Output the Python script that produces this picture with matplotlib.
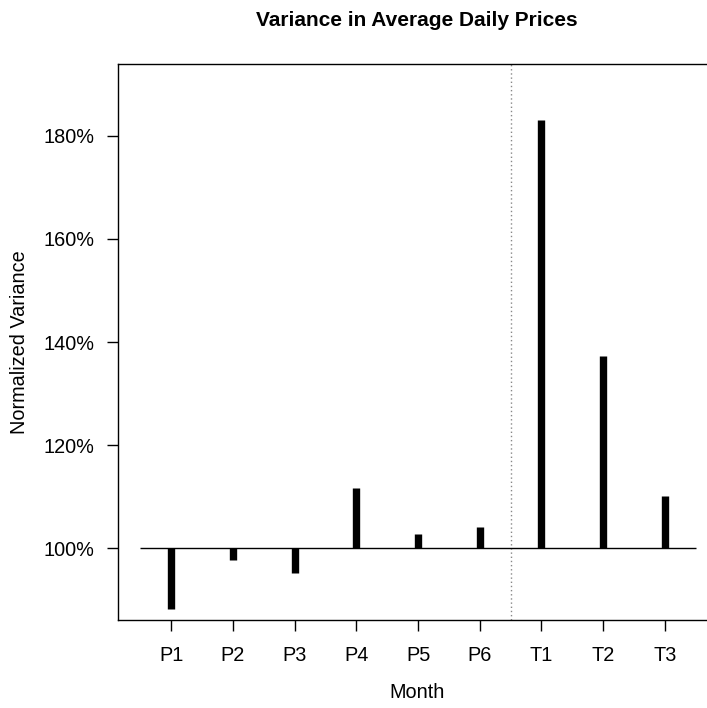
import matplotlib.pyplot as plt
import numpy as np

## data
months = ["P1", "P2", "P3", "P4", "P5", "P6", "T1", "T2", "T3"]
variance = [88.2, 97.7, 95.3, 111.7, 102.8, 104.2, 183.0, 137.2, 110.1]
yticks = [100, 120, 140, 160, 180]

plt.rcParams['font.family'] = ['Liberation Sans', 'DejaVu Sans']

fig = plt.figure(figsize=(7.07, 7.08), dpi=100)
ax = fig.add_axes([118/707, 88/708, 600/707, 556/708])

x = np.arange(1, len(months) + 1)
ax.vlines(x, 100, variance, colors='black', linewidth=5.3, capstyle='butt', zorder=3)
ax.hlines(100, 0.5, len(months) + 0.5, colors='black', linewidth=1.0, zorder=2)
ax.axvline(6.5, color='#888888', linestyle=(0, (1, 2)), linewidth=1.0, zorder=1)

ax.set_xlim(0.14, 9.86)
ax.set_ylim(86.1, 193.9)
ax.set_xticks(x)
ax.set_xticklabels(months)
ax.set_yticks(yticks)
ax.set_yticklabels([f"{v}%" for v in yticks])
ax.tick_params(axis='both', length=7.7, width=1.0, labelsize=14.3)
ax.tick_params(axis='x', pad=11)
ax.tick_params(axis='y', pad=9)

for s in ax.spines.values():
    s.set_linewidth(1.0)

fig.text(417/707, 1 - 20/708, "Variance in Average Daily Prices",
         ha='center', va='center', fontsize=15, fontweight='bold')
fig.text(417/707, 1 - 693/708, "Month", ha='center', va='center', fontsize=14.3)
fig.text(20/707, 1 - 342/708, "Normalized Variance", ha='center', va='center',
         rotation=90, fontsize=14.3)

fig.savefig("out.png", dpi=100)
